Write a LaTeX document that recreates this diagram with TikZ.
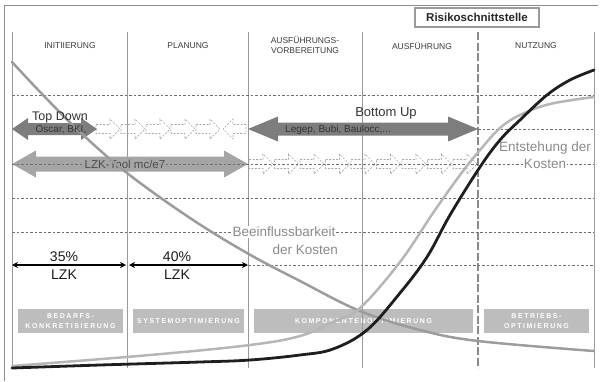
\documentclass[tikz,border=0pt]{standalone}
\usepackage{fontspec}
\setmainfont{Liberation Sans}
\newfontfamily\boxfont[LetterSpace=22]{Liberation Sans}
\usetikzlibrary{arrows.meta}
\definecolor{frameC}{HTML}{8C8C8C}
\definecolor{vlineC}{HTML}{9A9A9A}
\definecolor{hlineC}{HTML}{6E6E6E}
\definecolor{riskC}{HTML}{8A8A8A}
\definecolor{darkA}{HTML}{7D7D7D}
\definecolor{lightA}{HTML}{A5A5A5}
\definecolor{hatchC}{HTML}{A8A8A8}
\definecolor{boxC}{HTML}{BDBDBD}
\definecolor{decC}{HTML}{9C9C9C}
\definecolor{incC}{HTML}{B6B6B6}
\definecolor{blkC}{HTML}{1E1E1E}
\definecolor{phaseC}{HTML}{3A3A3A}
\definecolor{curveTxt}{HTML}{8A8A8A}
% double arrow: style, x1, x2, y, half body, half head, head length
\newcommand{\DArr}[7]{\path[#1] ({#2},{#4}) -- ({#2+#7},{#4-#6}) -- ({#2+#7},{#4-#5}) -- ({#3-#7},{#4-#5}) -- ({#3-#7},{#4-#6}) -- ({#3},{#4}) -- ({#3-#7},{#4+#6}) -- ({#3-#7},{#4+#5}) -- ({#2+#7},{#4+#5}) -- ({#2+#7},{#4+#6}) -- cycle;}
% single arrow: style, tail x, tip x, y, half body, half head, signed head length
\newcommand{\SArr}[7]{\path[#1] ({#2},{#4-#5}) -- ({#3-(#7)},{#4-#5}) -- ({#3-(#7)},{#4-#6}) -- ({#3},{#4}) -- ({#3-(#7)},{#4+#6}) -- ({#3-(#7)},{#4+#5}) -- ({#2},{#4+#5}) -- cycle;}
\begin{document}
\begin{tikzpicture}[x=1pt,y=-1pt,
  vline/.style={draw=vlineC, line width=0.9pt},
  hline/.style={draw=hlineC, line width=0.8pt, dash pattern=on 2.5pt off 2pt},
  riskline/.style={draw=riskC, line width=1.8pt, dash pattern=on 8pt off 2.5pt},
  hatch/.style={draw=hatchC, line width=0.7pt, dash pattern=on 2pt off 1.5pt},
  phase/.style={font=\fontsize{8.5}{10}\selectfont, text=phaseC, align=center},
  phasebox/.style={fill=boxC, inner sep=0pt, text=white, align=center,
    font=\boxfont\bfseries\fontsize{7}{9.5}\selectfont},
  curvetxt/.style={font=\fontsize{13.5}{16}\selectfont, text=curveTxt, inner sep=1pt},
  arrtxt/.style={font=\fontsize{10}{12}\selectfont, text=black!80},
  bigtxt/.style={font=\fontsize{12.5}{15}\selectfont, text=black!80},
  pcttxt/.style={font=\fontsize{14}{16}\selectfont, text=black!90},
  dimarrow/.style={draw=black, line width=1.3pt, {Stealth[length=6pt,width=6pt]}-{Stealth[length=6pt,width=6pt]}},
  curve/.style={line width=2.5pt, line cap=round}
]
\useasboundingbox (0,0) rectangle (601,381);
% frame
\draw[frameC, line width=1pt] (4,381) -- (4,5) -- (598,5);
% bottom phase boxes
\node[phasebox, minimum width=105pt, minimum height=24pt] (bBed) at (70.5,321) {BEDARFS-\\KONKRETISIERUNG};
\node[phasebox, minimum width=111pt, minimum height=24pt] (bSys) at (188.5,321) {SYSTEMOPTIMIERUNG};
\node[phasebox, minimum width=219pt, minimum height=24pt] (bKomp) at (363.5,321) {KOMPONENTENOPTIMIERUNG};
\node[phasebox, minimum width=105pt, minimum height=24pt] (bBetr) at (536.5,321) {BETRIEBS-\\OPTIMIERUNG};
% vertical lines
\foreach \x in {12,127,248,362,594} \draw[vline] (\x,32) -- (\x,368);
\draw[riskline] (478,32) -- (478,368);
% phase labels
\node[phase] (pInit) at (70,46) {INITIIERUNG};
\node[phase] (pPlan) at (188,46) {PLANUNG};
\node[phase] (pAV) at (305,45) {AUSFÜHRUNGS-\\VORBEREITUNG};
\node[phase] (pAus) at (422,46) {AUSFÜHRUNG};
\node[phase] (pNutz) at (536,46) {NUTZUNG};
% hatched small arrows
\foreach \a in {96,121,146,171,196} \SArr{hatch}{\a}{\a+24}{129}{4.5}{10}{10};
\SArr{hatch}{246}{223}{129}{4.5}{10}{-10}
\foreach \a in {249,274.5,300,325.5,351,376.5,402,427.5,453} \SArr{hatch}{\a}{\a+24}{164}{4.5}{10}{10};
% big arrows
\DArr{fill=darkA}{12}{97}{129}{6}{11}{16}
\DArr{fill=darkA}{248}{478}{129}{6.5}{12.5}{30}
\DArr{fill=lightA}{12}{248}{164}{7.5}{13.5}{24}
% horizontal dotted lines
\draw[hline] (12,95) -- (594,95);
\draw[hline] (478,129) -- (594,129);
\draw[hline] (12,164) -- (594,164);
\draw[hline] (12,198) -- (594,198);
\draw[hline] (12,232) -- (594,232);
\draw[hline] (248,265) -- (594,265);
% texts on lines
\node[font=\fontsize{11.5}{14}\selectfont, text=black!70, fill=lightA, inner sep=1pt] (lzk) at (125,164) {LZK-Tool mc/e7};
\node[curvetxt, fill=white] (bee1) at (284,232) {Beeinflussbarkeit};
\node[curvetxt, fill=white, anchor=east] (bee2) at (339,250) {der Kosten};
\node[curvetxt, fill=white] (ent1) at (545,148) {Entstehung der};
\node[curvetxt, fill=white] (ent2) at (545,164) {Kosten};
% curves
\draw[curve, decC] plot[smooth, tension=0.6] coordinates {(12,62) (43,95) (80,132) (127,173) (190,218) (247,253) (300,281) (360,311) (420,330) (478,341) (594,351)};
\draw[curve, incC] plot[smooth, tension=0.6] coordinates {(12,366) (150,355) (250,345) (300,336) (333,322) (360,308) (400,262) (433,213) (460,175) (480,150) (500,128) (520,115) (550,104) (594,97)};
\draw[curve, blkC, line width=2.8pt] plot[smooth, tension=0.6] coordinates {(12,368) (100,365) (200,362) (250,360) (300,355) (333,349) (367,330) (400,293) (427,257) (450,215) (480,167) (500,140) (520,120) (547,95) (570,80) (594,70)};
% arrow texts
\node[bigtxt] (td) at (60,117) {Top Down};
\node[arrtxt] (oscar) at (61,130) {Oscar, BKI,};
\node[font=\fontsize{13}{15}\selectfont, text=black!80] (bu) at (386,113) {Bottom Up};
\node[arrtxt] (legep) at (338,130) {Legep, Bubi, Baulocc,...};
% risk box
\node[draw=vlineC, line width=1.2pt, fill=white, minimum width=124pt, minimum height=19pt, inner sep=0pt,
  font=\bfseries\fontsize{11.5}{13}\selectfont, text=black!85] (risk) at (477,17.5) {Risikoschnittstelle};
% percentage arrows
\coordinate (d0) at (12,265);
\coordinate (d1l) at (126,265);
\coordinate (d1r) at (129,265);
\coordinate (d2) at (248,265);
\draw[dimarrow] (d0) -- (d1l);
\draw[dimarrow] (d1r) -- (d2);
\node[pcttxt] (p35) at (64,257) {35\%};
\node[pcttxt] (l35) at (64,275) {LZK};
\node[pcttxt] (p40) at (177,257) {40\%};
\node[pcttxt] (l40) at (177,275) {LZK};
\end{tikzpicture}
\end{document}
